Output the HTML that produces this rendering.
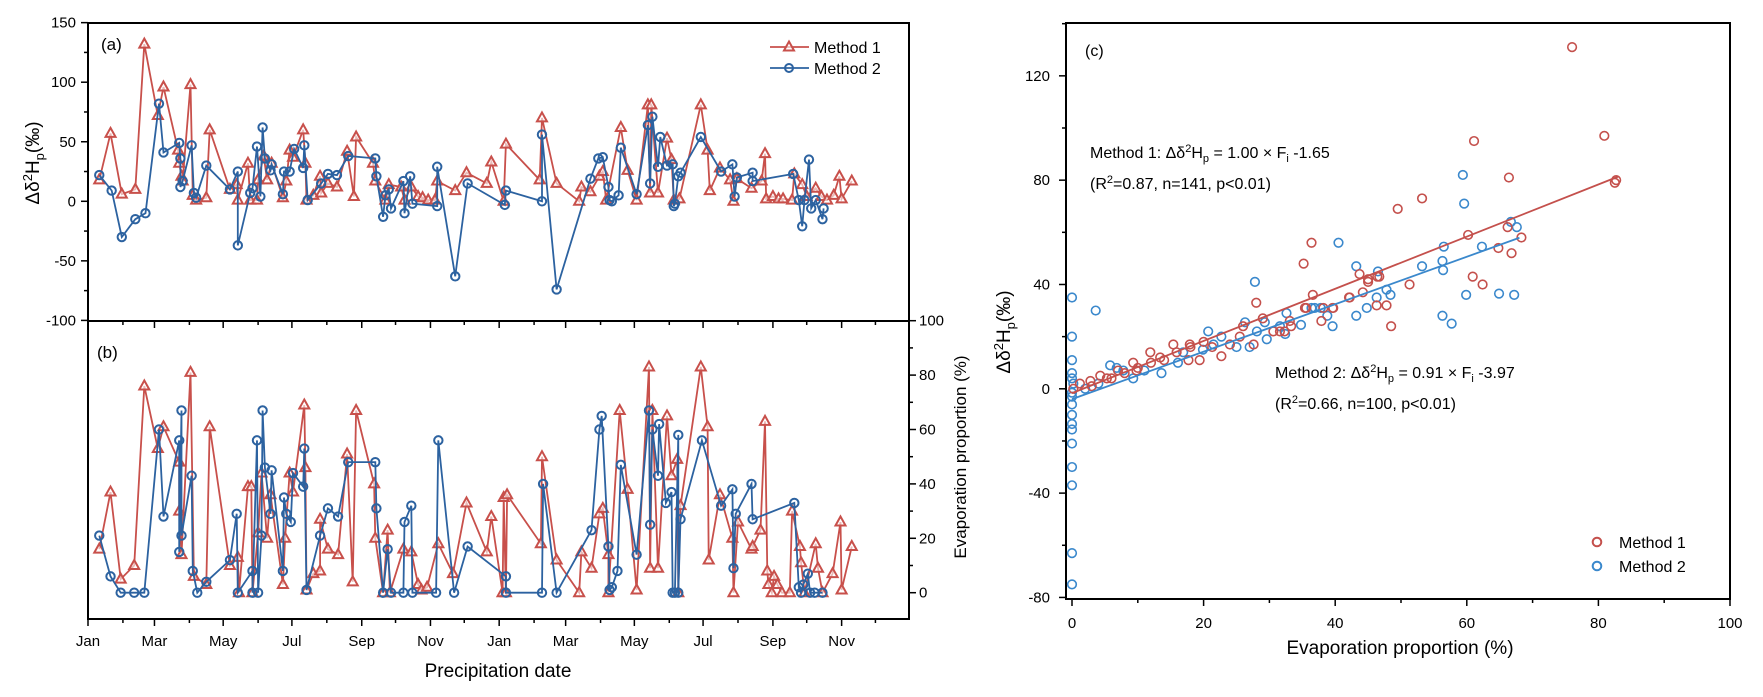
<!DOCTYPE html>
<html><head><meta charset="utf-8"><style>
html,body{margin:0;padding:0;background:#fff;}
svg{display:block;font-family:"Liberation Sans",Arial,sans-serif;}
</style></head><body>
<svg id="fig" width="1763" height="697" viewBox="0 0 1763 697" xmlns="http://www.w3.org/2000/svg">
<rect width="1763" height="697" fill="#fff"/>
<g id="ga"></g>
<g id="gb"></g>
<g id="gc"></g>
</svg>
<script>
// ---------- Panel (a): delta values by day ----------
const aM1Days=[10,20,30,42,50,62,67,80,81,83,84,91,93,96,105,108,126,132,133,142,144,150,151,156,159,163,173,176,179,182,191,193,194,200,206,207,213,221,230,236,238,253,255,264,267,278,281,287,293,297,302,308,310,326,336,354,358,369,371,401,403,416,436,438,446,454,457,460,473,479,487,497,499,500,506,514,518,520,525,544,550,552,561,570,573,576,589,598,601,602,608,613,617,625,627,634,638,646,651,656,662,667,669,678];
const aM1Vals=[18,57,6,10,132,72,96,43,32,21,17,98,5,1,3,60,10,14,1,32,1,1,18,38,18,32,3,17,43,37,60,32,1,5,21,7,15,12,42,4,54,32,17,1,14,12,1,12,4,3,1,1,17,9,24,15,33,0,48,18,70,15,0,12,8,21,25,1,62,26,1,81,7,81,7,53,35,1,2,81,43,9,28,18,0,19,11,17,40,2,4,2,2,1,23,14,4,11,4,1,5,21,2,17];
const aM2Days=[10,21,30,42,51,63,67,81,82,82,84,92,94,96,105,126,133,133,144,146,150,153,155,157,162,163,173,174,179,183,191,192,195,207,213,221,231,255,256,262,264,267,269,280,281,286,288,310,310,326,337,370,371,403,403,416,446,453,457,462,463,465,471,473,487,497,499,501,506,508,514,519,520,521,524,526,544,562,572,574,576,590,590,626,631,634,636,640,642,646,652,653];
const aM2Vals=[22,9,-30,-15,-10,82,41,49,36,12,17,47,7,3,30,10,25,-37,7,11,46,4,62,36,26,31,6,25,25,44,28,47,1,15,23,22,38,36,21,-13,5,10,-6,17,-10,21,-2,-4,29,-63,15,-3,9,0,56,-74,19,36,37,12,1,0,5,45,6,64,15,71,29,54,30,31,-4,-2,21,24,54,25,31,4,20,24,17,23,1,-21,1,35,-6,1,-15,-6];
// ---------- Panel (b): evaporation proportion by day ----------
const bM1Days=[10,20,29,41,50,62,67,81,81,83,91,94,105,108,126,133,134,142,145,146,151,154,159,162,173,175,179,182,192,193,194,200,206,206,213,222,230,235,238,254,255,262,266,268,280,287,293,296,301,311,324,336,354,358,368,369,371,372,402,403,416,436,438,447,454,457,462,462,472,479,487,498,499,501,506,514,518,523,524,526,544,550,551,561,572,573,577,589,590,597,601,603,604,607,609,612,616,623,625,632,633,636,646,648,652,661,668,669,678];
const bM1Vals=[16,37,5,10,76,53,61,48,30,14,81,6,3,61,10,13,0,39,39,0,22,44,20,36,3,20,44,37,69,46,1,7,8,27,16,14,51,4,67,40,20,0,23,0,16,15,3,1,2,18,7,33,15,28,0,35,0,36,18,50,12,0,15,9,29,31,14,0,67,38,1,83,9,67,9,65,43,49,0,32,83,61,12,36,20,0,26,16,17,23,63,8,3,0,6,3,0,0,30,17,11,0,18,9,0,7,26,1,17];
const bM2Days=[10,20,29,41,50,63,67,81,81,83,83,92,93,97,105,126,132,133,146,146,150,151,154,155,157,162,163,173,174,176,180,182,191,192,194,206,213,222,231,255,256,262,266,269,280,281,287,288,309,311,325,337,371,371,403,404,416,447,454,456,462,463,465,470,473,487,498,499,501,506,507,513,518,519,521,524,524,526,545,562,572,573,575,589,590,627,631,633,635,639,641,645,652];
const bM2Vals=[21,6,0,0,0,60,28,56,15,67,21,43,8,0,4,12,29,0,8,0,56,0,21,67,46,29,45,8,35,29,26,44,39,53,1,21,31,28,48,48,31,0,16,0,0,26,32,0,0,56,0,17,6,0,0,40,0,23,60,65,17,1,2,8,47,14,67,25,60,43,62,33,37,0,0,58,0,27,56,32,38,9,29,40,27,33,2,0,3,7,0,0,0];
// ---------- Panel (c): scatter ----------
const cM1F=[36.4,35.2,28,36.6,35.4,38.2,37.9,39.7,42.2,43.7,45,44.2,46.4,46.3,22.7,19.4,17.9,15.4,17.7,11.9,13.4,9.3,9.8,7,5.3,4.3,2.8,1.2,0.2,25.5,27.6,30.6,33.1,31.6,24,15.9,21.3,76,80.9,61.1,66.4,82.7,82.5,49.5,53.2,60.2,66.2,68.3,64.8,66.8,60.9,62.4,51.3,45,46.7,42.1,47.8,48.5,39.6,35.6,33.3,32.3,3,6,8,10,12,14,18,20,26,29];
const cM1V=[56,48,33,36,31,31,26,31,35,44,42,37,43,32,12.5,11,17,17,11,14,12,10,7,7,4,5,3,2,0,20,17,22,26,22,17,14,16,131,97,95,81,80,79,69,73,59,62,58,54,52,43,40,40,41,43,35,32,24,31,31,24,22,1,4,6,8,10,11,16,18,24,27];
const cM2F=[0,0,0,0,0,0,0,0,0,0,0,0,0,0,0,0,0.2,3.6,5.8,6.8,7.8,9.3,13.6,16.1,16.9,20.7,19.9,21.5,22.7,25,26.3,27,27.8,28.1,29.3,29.6,31.6,32.4,32.6,34.8,36.4,39.6,40.5,43.2,43.2,44.8,46.3,46.5,47.8,48.4,53.2,56.3,56.4,56.5,56.3,57.7,59.4,59.6,59.9,62.3,64.9,67.2,66.7,67.6,38.8,36.9,37.8,2,4,11];
const cM2V=[35,20,11,6,4,-1.5,-6,-10,-13.5,-15.6,-21,-30,-37,-63,-75,-3,2,30,9,8,7,4,6,10,14,22,15,17,20,16,25.5,16,41,22,25.5,19,24,21,29,24.5,31,24,56,47,28,31,35,45,38,36,47,49,45.5,54.5,28,25,82,71,36,54.5,36.5,36,64,62,28,31,31,0,2,7];
const fit1=[1.00,-1.65], fit1Range=[0,83];
const fit2=[0.91,-3.97], fit2Range=[0,68];
const monthStarts=[0,31,59,90,120,151,181,212,243,273,304,334,365,396,424,455,485,516,546,577,608,638,669,699];
const monthNames=['Jan','Feb','Mar','Apr','May','Jun','Jul','Aug','Sep','Oct','Nov','Dec'];

const NS='http://www.w3.org/2000/svg';
const RED='#c8504b', BLUE='#2c62a0', SRED='#c4504c', SBLUE='#3a88cc';
function mk(parent,tag,attrs,text){const e=document.createElementNS(NS,tag);for(const k in attrs)e.setAttribute(k,attrs[k]);if(text!==undefined)e.textContent=text;parent.appendChild(e);return e;}

const L=88,R=909;
const xd=d=>L+d*1.1265;
const ya=v=>201.3-v*1.191;
const yb=v=>592.7-v*2.72;
const xc=f=>1072+f*6.58;
const yc=v=>388.8-v*2.608;

const ga=document.getElementById('ga'), gb=document.getElementById('gb'), gc=document.getElementById('gc');

let e;
e=mk(ga,'rect',{x:L,y:23,width:R-L,height:298,fill:'none',stroke:'#000','stroke-width':2});

for(let v=-100;v<=150;v+=25){
  const maj=v%50===0;
  e=mk(ga,'line',{x1:L,x2:L-(maj?7:4),y1:ya(v),y2:ya(v),stroke:'#000','stroke-width':1.5});
  
  if(maj){e=mk(ga,'text',{x:L-12,y:ya(v)+5,'text-anchor':'end','font-size':15},String(v));
    }
}
e=mk(ga,'text',{x:0,y:0,'font-size':19,'text-anchor':'middle',transform:'translate(39,163) rotate(-90)'});

e.innerHTML='Δδ<tspan font-size="13" dy="-7">2</tspan><tspan dy="7">H</tspan><tspan font-size="13" dy="5">p</tspan><tspan dy="-5">(‰)</tspan>';
e=mk(ga,'text',{x:101,y:50,'font-size':17},'(a)');


e=mk(gb,'rect',{x:L,y:321,width:R-L,height:298,fill:'none',stroke:'#000','stroke-width':2});

monthStarts.forEach((d,i)=>{
  const maj=i%2===0;const x=xd(d);
  e=mk(gb,'line',{x1:x,x2:x,y1:619,y2:619+(maj?7:4),stroke:'#000','stroke-width':1.5});
  
  e=mk(gb,'line',{x1:x,x2:x,y1:321,y2:321+(maj?7:4),stroke:'#000','stroke-width':1.5});
  
  if(maj){e=mk(gb,'text',{x:x,y:646,'text-anchor':'middle','font-size':15},monthNames[i%12]);
    }
});
for(let v=0;v<=100;v+=10){
  const maj=v%20===0;
  e=mk(gb,'line',{x1:R,x2:R+(maj?7:4),y1:yb(v),y2:yb(v),stroke:'#000','stroke-width':1.5});
  
  if(maj){e=mk(gb,'text',{x:R+10,y:yb(v)+5,'font-size':15},String(v));
    }
}
e=mk(gb,'text',{x:0,y:0,'font-size':17,'text-anchor':'middle',transform:'translate(966,457) rotate(-90)'},'Evaporation proportion (%)');

e=mk(gb,'text',{x:97,y:358,'font-size':17},'(b)');

e=mk(gb,'text',{x:498,y:677,'text-anchor':'middle','font-size':19},'Precipitation date');


function tri(g,x,y,c){return mk(g,'path',{d:`M${x},${y-5.5}L${x+5},${y+3.5}L${x-5},${y+3.5}Z`,fill:'#fff','fill-opacity':0.6,stroke:c,'stroke-width':2});}
function circ(g,x,y,c,r){return mk(g,'circle',{cx:x,cy:y,r:r||4.2,fill:'none',stroke:c,'stroke-width':2});}

function series(g,days,vals,yf,color,kind,name){
  const pts=days.map((d,i)=>xd(d).toFixed(1)+','+yf(vals[i]).toFixed(1)).join(' ');
  e=mk(g,'polyline',{points:pts,fill:'none',stroke:color,'stroke-width':1.8});
  
  days.forEach((d,i)=>{
    const m=kind==='tri'?tri(g,xd(d),yf(vals[i]),color):circ(g,xd(d),yf(vals[i]),color);
    
    
  });
}
series(ga,aM1Days,aM1Vals,ya,RED,'tri','a-method1');
series(ga,aM2Days,aM2Vals,ya,BLUE,'circ','a-method2');
series(gb,bM1Days,bM1Vals,yb,RED,'tri','b-method1');
series(gb,bM2Days,bM2Vals,yb,BLUE,'circ','b-method2');

e=mk(ga,'g',{});
let lg=e;
e=mk(lg,'line',{x1:770,x2:809,y1:47,y2:47,stroke:RED,'stroke-width':1.8});
e=tri(lg,789,47,RED);
e=mk(lg,'text',{x:814,y:53,'font-size':16},'Method 1');
e=mk(lg,'line',{x1:770,x2:809,y1:68,y2:68,stroke:BLUE,'stroke-width':1.8});
e=circ(lg,789,68,BLUE,4);
e=mk(lg,'text',{x:814,y:74,'font-size':16},'Method 2');

e=mk(gc,'rect',{x:1066,y:23,width:664,height:576,fill:'none',stroke:'#000','stroke-width':2});

for(let v=-80;v<=140;v+=20){
  const maj=v%40===0;
  e=mk(gc,'line',{x1:1066,x2:1066-(maj?7:4),y1:yc(v),y2:yc(v),stroke:'#000','stroke-width':1.5});
  
  if(maj&&v<=120){e=mk(gc,'text',{x:1050,y:yc(v)+5,'text-anchor':'end','font-size':15},String(v));
    }
}
for(let f=0;f<=100;f+=10){
  const maj=f%20===0;
  e=mk(gc,'line',{x1:xc(f),x2:xc(f),y1:599,y2:599+(maj?7:4),stroke:'#000','stroke-width':1.5});
  
  if(maj){e=mk(gc,'text',{x:xc(f),y:628,'text-anchor':'middle','font-size':15},String(f));
    }
}
e=mk(gc,'text',{x:1400,y:654,'text-anchor':'middle','font-size':19},'Evaporation proportion (%)');

e=mk(gc,'text',{x:0,y:0,'font-size':19,'text-anchor':'middle',transform:'translate(1010,332) rotate(-90)'});

e.innerHTML='Δδ<tspan font-size="13" dy="-7">2</tspan><tspan dy="7">H</tspan><tspan font-size="13" dy="5">p</tspan><tspan dy="-5">(‰)</tspan>';
e=mk(gc,'text',{x:1085,y:56,'font-size':16},'(c)');


cM2F.forEach((f,i)=>{e=circ(gc,xc(f),yc(cM2V[i]),SBLUE,4.3);e.setAttribute('stroke-width',1.6);
  });
cM1F.forEach((f,i)=>{e=circ(gc,xc(f),yc(cM1V[i]),SRED,4.3);e.setAttribute('stroke-width',1.6);
  });
e=mk(gc,'line',{x1:xc(fit1Range[0]),x2:xc(fit1Range[1]),y1:yc(fit1[0]*fit1Range[0]+fit1[1]),y2:yc(fit1[0]*fit1Range[1]+fit1[1]),stroke:SRED,'stroke-width':1.8});

e=mk(gc,'line',{x1:xc(fit2Range[0]),x2:xc(fit2Range[1]),y1:yc(fit2[0]*fit2Range[0]+fit2[1]),y2:yc(fit2[0]*fit2Range[1]+fit2[1]),stroke:SBLUE,'stroke-width':1.8});


e=mk(gc,'text',{x:1090,y:158,'font-size':16});

e.innerHTML='Method 1: Δδ<tspan font-size="11" dy="-6">2</tspan><tspan dy="6">H</tspan><tspan font-size="11" dy="4">p</tspan><tspan dy="-4"> = 1.00 × F</tspan><tspan font-size="11" dy="4">i</tspan><tspan dy="-4"> -1.65</tspan>';
e=mk(gc,'text',{x:1090,y:189,'font-size':16});

e.innerHTML='(R<tspan font-size="11" dy="-6">2</tspan><tspan dy="6">=0.87, n=141, p&lt;0.01)</tspan>';
e=mk(gc,'text',{x:1275,y:378,'font-size':16});

e.innerHTML='Method 2: Δδ<tspan font-size="11" dy="-6">2</tspan><tspan dy="6">H</tspan><tspan font-size="11" dy="4">p</tspan><tspan dy="-4"> = 0.91 × F</tspan><tspan font-size="11" dy="4">i</tspan><tspan dy="-4"> -3.97</tspan>';
e=mk(gc,'text',{x:1275,y:409,'font-size':16});

e.innerHTML='(R<tspan font-size="11" dy="-6">2</tspan><tspan dy="6">=0.66, n=100, p&lt;0.01)</tspan>';

e=mk(gc,'g',{});
lg=e;
e=circ(lg,1597,542,SRED,4.3);
e=mk(lg,'text',{x:1619,y:548,'font-size':16},'Method 1');
e=circ(lg,1597,566,SBLUE,4.3);
e=mk(lg,'text',{x:1619,y:572,'font-size':16},'Method 2');
</script>
</body></html>
